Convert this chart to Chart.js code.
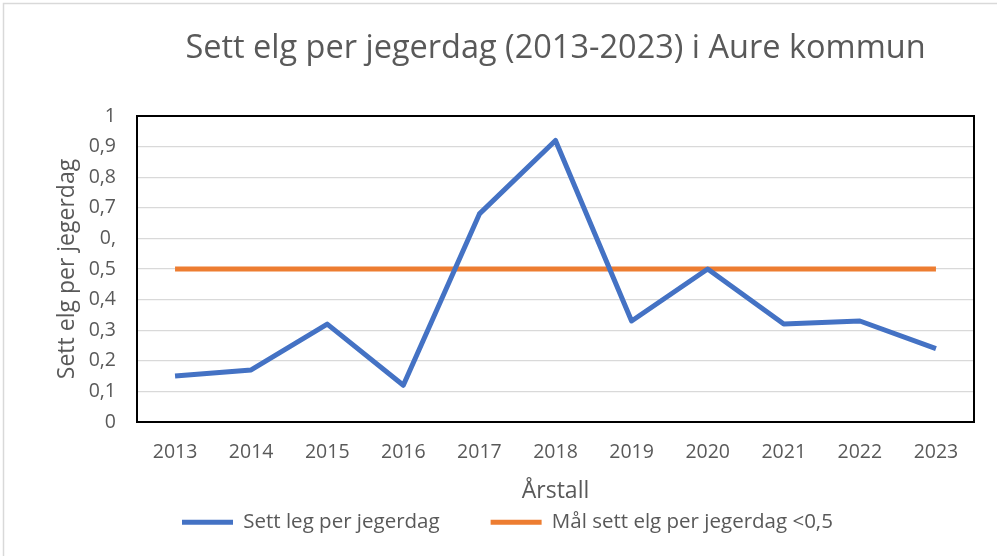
<!DOCTYPE html>
<html>
<head>
<meta charset="utf-8">
<script src="https://cdn.jsdelivr.net/npm/chart.js@4"></script>
<style>
  html, body { margin: 0; padding: 0; background: #ffffff; }
  #wrap { width: 997px; height: 556px; position: relative; }
</style>
</head>
<body>
<div id="wrap"><canvas id="c" width="997" height="556"></canvas></div>
<script>
const categories = ['2013','2014','2015','2016','2017','2018','2019','2020','2021','2022','2023'];
const settElg = [0.15, 0.17, 0.32, 0.12, 0.68, 0.92, 0.33, 0.50, 0.32, 0.33, 0.24];
const maal = [0.5, 0.5, 0.5, 0.5, 0.5, 0.5, 0.5, 0.5, 0.5, 0.5, 0.5];
const yTickLabels = ['0','0,1','0,2','0,3','0,4','0,5','0,','0,7','0,8','0,9','1'];
const seriesNames = ['Sett leg per jegerdag', 'Mål sett elg per jegerdag <0,5'];
const titleText = 'Sett elg per jegerdag (2013-2023) i Aure kommun';
const xTitle = 'Årstall';
const yTitle = 'Sett elg per jegerdag';

const FONT = "'Open Sans', 'DejaVu Sans', sans-serif";
const TXT = '#595959';

const framePlugin = {
  id: 'frame',
  beforeDraw(chart) {
    const ctx = chart.ctx;
    ctx.save();
    ctx.strokeStyle = '#d9d9d9';
    ctx.lineWidth = 1.5;
    ctx.beginPath();
    ctx.moveTo(3.5, chart.height + 5);
    ctx.lineTo(3.5, 3.5);
    ctx.lineTo(chart.width + 5, 3.5);
    ctx.stroke();
    ctx.restore();
  },
  beforeDatasetsDraw(chart) {
    const a = chart.chartArea;
    const ctx = chart.ctx;
    ctx.save();
    ctx.strokeStyle = '#000000';
    ctx.lineWidth = 2;
    ctx.strokeRect(a.left, a.top, a.right - a.left, a.bottom - a.top);
    ctx.restore();
  }
};

const legendPlace = {
  id: 'legendPlace',
  afterLayout(chart) {
    const lg = chart.legend;
    if (!lg) return;
    const p = lg.options.labels.padding;
    lg.top = 512 - p;
    lg.bottom = chart.height;
    lg.height = lg.bottom - lg.top;
    const dx = (182 - p) - lg.left;
    lg.left += dx; lg.right += dx;
  }
};

new Chart(document.getElementById('c'), {
  type: 'line',
  data: {
    labels: categories,
    datasets: [
      {
        label: seriesNames[0],
        data: settElg,
        borderColor: '#4472C4',
        backgroundColor: '#4472C4',
        borderWidth: 5,
        pointRadius: 0,
        pointHoverRadius: 0,
        borderJoinStyle: 'round',
        borderCapStyle: 'butt',
        tension: 0,
        order: 1
      },
      {
        label: seriesNames[1],
        data: maal,
        borderColor: '#ED7D31',
        backgroundColor: '#ED7D31',
        borderWidth: 5,
        pointRadius: 0,
        pointHoverRadius: 0,
        borderCapStyle: 'butt',
        tension: 0,
        order: 2
      }
    ]
  },
  options: {
    responsive: false,
    animation: false,
    devicePixelRatio: 1,
    layout: { padding: { left: 0, right: 23, top: 0, bottom: 0 } },
    plugins: {
      title: {
        display: true,
        text: titleText,
        fullSize: false,
        color: TXT,
        font: { family: FONT, size: 32.5, weight: 'normal' },
        padding: { top: 29, bottom: 48 }
      },
      legend: {
        display: true,
        position: 'bottom',
        align: 'start',
        maxHeight: 51,
        labels: {
          color: TXT,
          font: { family: FONT, size: 20.5 },
          usePointStyle: true,
          pointStyle: 'line',
          pointStyleWidth: 51,
          padding: 51
        }
      },
      tooltip: { enabled: false }
    },
    scales: {
      x: {
        offset: true,
        grid: { display: false, drawTicks: false },
        border: { display: false },
        ticks: {
          color: TXT,
          font: { family: FONT, size: 19.5 },
          padding: 19,
          maxRotation: 0,
          autoSkip: false
        },
        title: {
          display: true,
          text: xTitle,
          color: TXT,
          font: { family: FONT, size: 23 },
          padding: { top: 0, bottom: 0 }
        },
        afterFit(scale) { scale.height = 83; }
      },
      y: {
        min: 0,
        max: 1,
        grid: { color: '#d9d9d9', lineWidth: 1.3, drawTicks: false },
        border: { display: false },
        ticks: {
          stepSize: 0.1,
          color: TXT,
          font: { family: FONT, size: 19.5 },
          padding: 21,
          callback: function(value, index) { return yTickLabels[index]; }
        },
        title: {
          display: true,
          text: yTitle,
          color: TXT,
          font: { family: FONT, size: 23 },
          padding: { top: 54, bottom: 0 }
        },
        afterFit(scale) { scale.width = 137; }
      }
    }
  },
  plugins: [framePlugin, legendPlace]
});
</script>
</body>
</html>
